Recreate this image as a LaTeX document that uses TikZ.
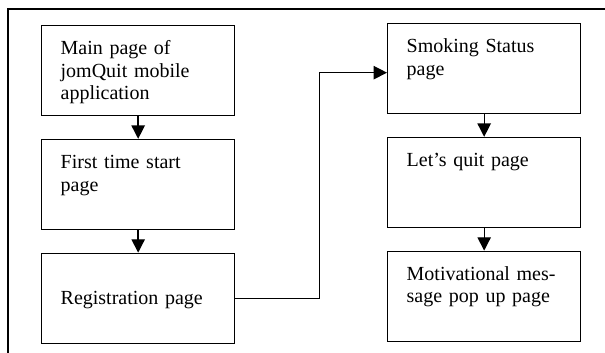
\documentclass[tikz,border=0pt]{standalone}
\usepackage{fontspec}
\setmainfont{Liberation Serif}
\usepackage{tikz}
\usetikzlibrary{arrows.meta,positioning}
\tikzset{
  page/.style ={draw, line width=.8pt, align=left, anchor=north west,
                font=\fontsize{12pt}{13.6pt}\selectfont,
                inner xsep=11.4pt, inner ysep=8.4pt, text width=93pt,
                text height=9pt, text depth=28.2pt},
  midpage/.style ={page, text height=22.2pt, text depth=15pt},
  flow/.style ={-{Triangle[length=8pt,width=8pt]}, line width=.8pt},
  frame/.style={line width=.8pt},
}
\begin{document}
\begin{tikzpicture}[x=0.6pt,y=0.6pt,node distance=13.5pt]
  \useasboundingbox (0,0) rectangle (605,353);
  % outer frame (top and left edge only)
  \draw[frame] (605,344) -- (8,344) -- (8,0);
  % left column
  \node[page] (main) at (41,328) {Main page of\\jomQuit mobile\\application};
  \node[page, below=of main.south west, anchor=north west] (first) {First time start\\page};
  \node[midpage, below=of first.south west, anchor=north west] (reg) {Registration page};
  % right column
  \node[page] (smoke) at (387,330) {Smoking Status\\page};
  \node[page, below=of smoke.south west, anchor=north west] (quit) {Let's quit page};
  \node[page, below=of quit.south west, anchor=north west] (motiv) {Motivational mes-\\sage pop up page};
  \draw[flow] (main) -- (first);
  \draw[flow] (first) -- (reg);
  \draw[flow] (smoke) -- (quit);
  \draw[flow] (quit) -- (motiv);
  % registration leads on to the smoking status page
  \draw[flow] (reg.east) -- ++(84,0) |- ([yshift=-2.4pt]smoke.west);
\end{tikzpicture}
\end{document}
